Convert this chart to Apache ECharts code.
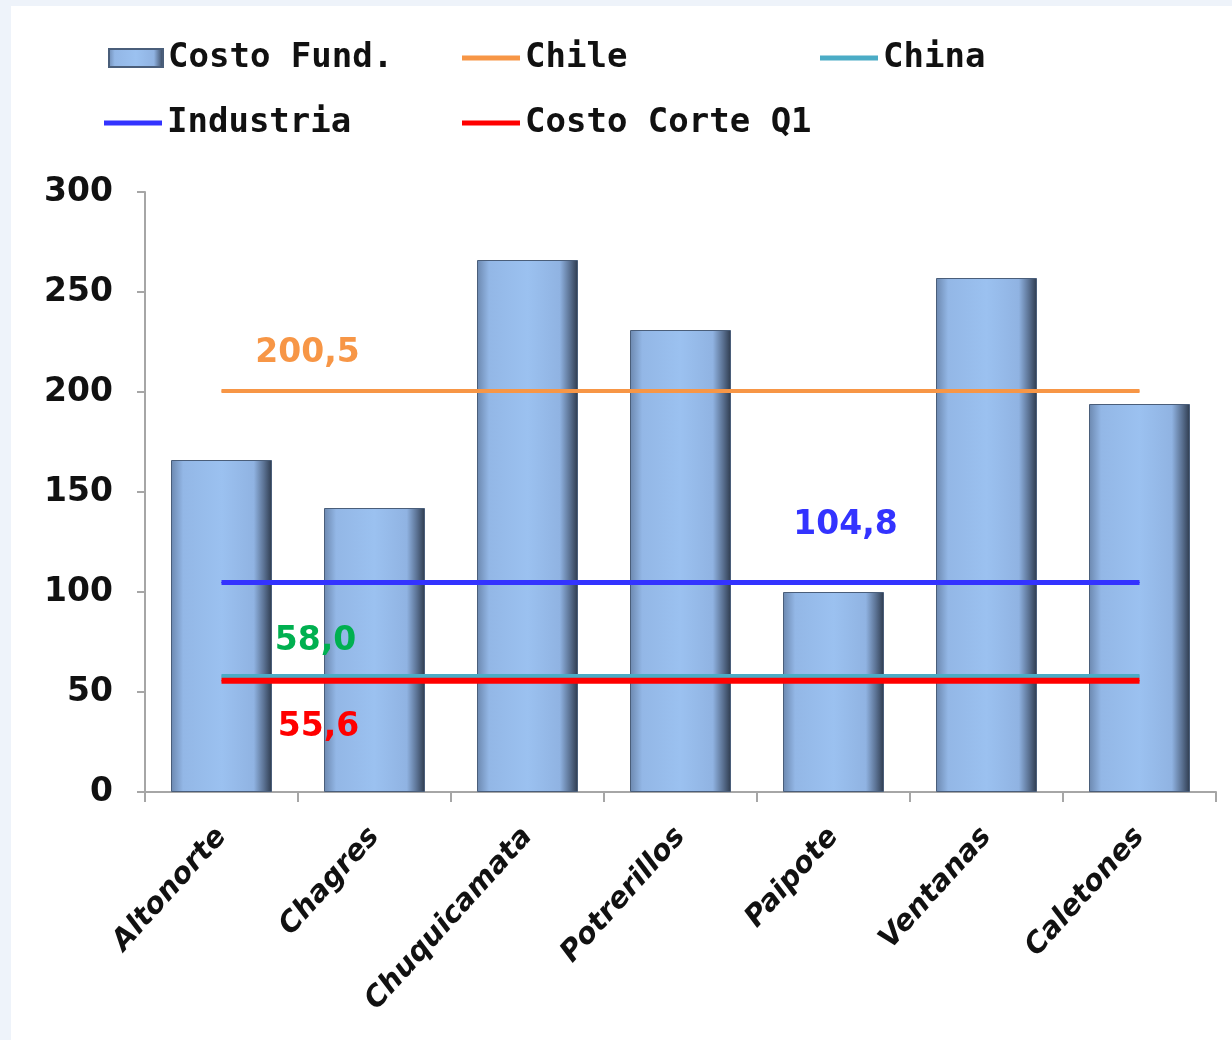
<!DOCTYPE html>
<html><head><meta charset="utf-8">
<script src="https://cdn.jsdelivr.net/npm/echarts@6/dist/echarts.min.js"></script>
<style>html,body{margin:0;padding:0;background:#EEF3FA}#c{width:1232px;height:1040px}</style>
</head><body><div id="c"></div>
<script>
const categories = ['Altonorte','Chagres','Chuquicamata','Potrerillos','Paipote','Ventanas','Caletones'];
const costoFund = [166, 142, 266, 231, 100, 257, 194];
const chileValues = [200.5, 200.5, 200.5, 200.5, 200.5, 200.5, 200.5];
const chinaValues = [58.0, 58.0, 58.0, 58.0, 58.0, 58.0, 58.0];
const industriaValues = [104.8, 104.8, 104.8, 104.8, 104.8, 104.8, 104.8];
const corteValues = [55.6, 55.6, 55.6, 55.6, 55.6, 55.6, 55.6];
const yTicks = [0, 50, 100, 150, 200, 250, 300];

const fmt = v => Number(v).toFixed(1).replace('.', ',');
function labelled(arr, idx, color, offset) {
  return arr.map((v, i) => i === idx ? {
    value: v,
    label: { show: true, position: 'inside', offset: offset, color: color,
      fontFamily: 'DejaVu Sans', fontWeight: 'bold', fontSize: 33, formatter: p => fmt(p.value) }
  } : v);
}
const chart = echarts.init(document.getElementById('c'), null, {renderer: 'canvas'});
const legendText = { fontFamily: 'DejaVu Sans Mono', fontWeight: 'bold', fontSize: 34, color: '#111' };
function lg(name, left, top, w, h) {
  return { data: [name], left: left, top: top, itemWidth: w, itemHeight: h, icon: 'rect',
    padding: 0, itemGap: 0, textStyle: legendText, selectedMode: false };
}
const barGrad = new echarts.graphic.LinearGradient(0, 0, 1, 0, [
  {offset: 0, color: '#6C88AF'}, {offset: 0.12, color: '#93B7E6'},
  {offset: 0.5, color: '#9BC1F0'}, {offset: 0.82, color: '#90B3E2'},
  {offset: 0.92, color: '#5B7293'}, {offset: 1, color: '#2E3B4E'}
]);
function lineSeries(name, data, color, width) {
  return { name: name, type: 'line', data: data, symbol: 'circle', symbolSize: 1, showSymbol: true,
    itemStyle: { color: color }, lineStyle: { color: color, width: width }, z: 3, animation: false };
}
chart.setOption({
  backgroundColor: '#EEF3FA',
  animation: false,
  graphic: [{ type: 'rect', left: 11, top: 6, shape: { width: 1221, height: 1034 },
    style: { fill: '#FFFFFF' }, z: -10 }],
  legend: [
    lg('Costo Fund.', 108, 41, 54, 18),
    lg('Chile', 462, 41, 58, 5),
    lg('China', 820, 41, 58, 5),
    lg('Industria', 104, 106, 58, 5),
    lg('Costo Corte Q1', 462, 106, 58, 5)
  ],
  grid: { left: 145, right: 16, top: 192, bottom: 248, containLabel: false },
  xAxis: {
    type: 'category', data: categories, boundaryGap: true,
    axisLine: { lineStyle: { color: '#A6A6A6', width: 2 } },
    axisTick: { show: true, length: 10, lineStyle: { color: '#A6A6A6', width: 2 } },
    axisLabel: { rotate: 48, margin: 40, interval: 0, color: '#111', fontFamily: 'DejaVu Sans',
      fontWeight: 'bold', fontStyle: 'italic', fontSize: 29 }
  },
  yAxis: {
    type: 'value', min: 0, max: 300, interval: 50,
    axisLine: { show: true, lineStyle: { color: '#A6A6A6', width: 2 } },
    axisTick: { show: true, length: 8, lineStyle: { color: '#A6A6A6', width: 2 } },
    splitLine: { show: false },
    axisLabel: { margin: 32, color: '#111', fontFamily: 'DejaVu Sans', fontWeight: 'bold', fontSize: 33,
      formatter: v => yTicks.includes(v) ? String(v) : '' }
  },
  series: [
    { name: 'Costo Fund.', type: 'bar', data: costoFund, barWidth: '66%',
      itemStyle: { color: barGrad, borderColor: '#4A5E7A', borderWidth: 1 }, z: 2 },
    lineSeries('Chile', labelled(chileValues, 0, '#F79646', [86, -38]), '#F79646', 4),
    lineSeries('China', labelled(chinaValues, 0, '#00B050', [94, -35]), '#4BACC6', 4),
    lineSeries('Industria', labelled(industriaValues, 4, '#3333FF', [12, -57]), '#3333FF', 5),
    lineSeries('Costo Corte Q1', labelled(corteValues, 0, '#FF0000', [97, 47]), '#FF0000', 6)
  ]
});
</script></body></html>
